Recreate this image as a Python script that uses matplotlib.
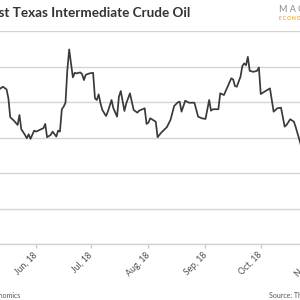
import numpy as np
import pandas as pd
import matplotlib
matplotlib.use("Agg")
import matplotlib.pyplot as plt
import matplotlib.dates as mdates

# WTI crude, daily close (USD/bbl)
dates = ["2018-05-12", "2018-05-14", "2018-05-16", "2018-05-17", "2018-05-18",
         "2018-05-20", "2018-05-22", "2018-05-23", "2018-05-24", "2018-05-26",
         "2018-05-27", "2018-05-28", "2018-05-29", "2018-05-31", "2018-06-01",
         "2018-06-03", "2018-06-05", "2018-06-06", "2018-06-07", "2018-06-09",
         "2018-06-10", "2018-06-12", "2018-06-13", "2018-06-14", "2018-06-15",
         "2018-06-16", "2018-06-17", "2018-06-18", "2018-06-19", "2018-06-20",
         "2018-06-21", "2018-06-22", "2018-06-23", "2018-06-25", "2018-06-26",
         "2018-06-27", "2018-06-28", "2018-06-30", "2018-07-02", "2018-07-03",
         "2018-07-04", "2018-07-05", "2018-07-06", "2018-07-07", "2018-07-09",
         "2018-07-10", "2018-07-12", "2018-07-13", "2018-07-15", "2018-07-16",
         "2018-07-17", "2018-07-19", "2018-07-20", "2018-07-22", "2018-07-24",
         "2018-07-26", "2018-07-27", "2018-07-30", "2018-07-31", "2018-08-01",
         "2018-08-02", "2018-08-05", "2018-08-06", "2018-08-08", "2018-08-11",
         "2018-08-13", "2018-08-15", "2018-08-17", "2018-08-18", "2018-08-19",
         "2018-08-21", "2018-08-23", "2018-08-26", "2018-08-28", "2018-08-30",
         "2018-09-01", "2018-09-03", "2018-09-04", "2018-09-05", "2018-09-08",
         "2018-09-09", "2018-09-11", "2018-09-13", "2018-09-15", "2018-09-16",
         "2018-09-17", "2018-09-18", "2018-09-20", "2018-09-21", "2018-09-22",
         "2018-09-23", "2018-09-24", "2018-09-25", "2018-09-27", "2018-09-29",
         "2018-09-30", "2018-10-01", "2018-10-03", "2018-10-06", "2018-10-08",
         "2018-10-10", "2018-10-12", "2018-10-14", "2018-10-15", "2018-10-17",
         "2018-10-19", "2018-10-20", "2018-10-22", "2018-10-23"]
prices = [71.78, 72.15, 71.78, 70.52, 67.85,
          67.37, 66.77, 68.17, 66.17, 65.37,
          64.90, 65.46, 64.81, 65.97, 65.83,
          66.07, 66.31, 66.91, 65.04, 65.37,
          65.83, 65.13, 65.97, 65.83, 68.98,
          69.34, 69.90, 74.49, 77.40, 75.43,
          73.47, 74.11, 74.03, 74.17, 73.93,
          73.09, 73.83, 74.03, 74.11, 70.52,
          70.28, 71.08, 69.82, 68.88, 68.03,
          68.64, 70.28, 69.12, 67.94, 70.74,
          71.54, 68.74, 69.82, 71.22, 68.88,
          68.50, 68.78, 69.12, 66.91, 67.09,
          67.71, 67.23, 65.04, 65.69, 66.45,
          67.47, 69.44, 69.96, 70.04, 68.64,
          70.18, 69.90, 69.90, 67.94, 67.71,
          67.61, 70.28, 68.78, 68.98, 68.98,
          71.22, 70.98, 72.15, 73.33, 73.19,
          72.25, 72.15, 73.55, 75.05, 75.43,
          75.19, 76.36, 74.39, 74.25, 74.39,
          74.87, 71.12, 71.45, 71.92, 68.64,
          69.12, 69.20, 66.53, 66.77, 67.57,
          67.23, 66.45, 64.66, 63.72]

month_ticks = ["2018-06-01", "2018-07-01", "2018-08-01", "2018-09-01",
               "2018-10-01", "2018-11-01"]

x = pd.to_datetime(dates)

fig = plt.figure(figsize=(3, 3), dpi=100)
fig.patch.set_facecolor("white")

# axes runs past the right edge, the picture is a crop of a wider chart
ax = fig.add_axes([-0.05, 56 / 300, 1.15, 213 / 300])
ax.plot(x, prices, color="#3a3a3a", lw=1.25, solid_joinstyle="round")

base = mdates.date2num(pd.Timestamp("2018-06-01"))
ax.set_xlim(base - 27.7, base + 159.6)
ax.set_ylim(50, 80)

ax.set_yticks(np.arange(50, 81, 5))
ax.yaxis.grid(True, color="#d4d4d4", lw=1.0)
ax.tick_params(axis="y", left=False, labelleft=False)
ax.set_axisbelow(True)

ax.set_xticks(pd.to_datetime(month_ticks))
ax.xaxis.set_major_formatter(mdates.DateFormatter("%b, %y"))
ax.tick_params(axis="x", direction="out", length=3, width=1,
               color="#c8c8c8", labelsize=6.2, labelcolor="#4d4d4d", pad=4)
for lab in ax.get_xticklabels():
    lab.set_rotation(45)
    lab.set_ha("right")
    lab.set_va("center")
    lab.set_rotation_mode("anchor")
    lab.set_family("Lato")

for s in ["top", "left", "right"]:
    ax.spines[s].set_visible(False)
ax.spines["bottom"].set_color("#d4d4d4")
ax.spines["bottom"].set_linewidth(1.0)

# header / footer
fig.text(190 / 300, 1 - 13 / 300, "West Texas Intermediate Crude Oil",
         ha="right", va="center", fontsize=9.7, fontweight="bold",
         color="#333333", family="Lato")
fig.text(279 / 300, 1 - 10 / 300, "M A C R O", ha="left", va="center",
         fontsize=6.5, color="#8a8a8a", family="Lato")
fig.text(279 / 300, 1 - 18 / 300, "E C O N O M I C S", ha="left", va="center",
         fontsize=3.5, color="#f0a830", family="Lato", fontweight="bold")
fig.text(20 / 300, 1 - 295 / 300, "Macro Economics", ha="right", va="center",
         fontsize=5, color="#555555", family="Lato")
fig.text(269 / 300, 1 - 295 / 300, "Source: Thomson Reuters", ha="left",
         va="center", fontsize=5, color="#555555", family="Lato")

fig.savefig("out.png", dpi=100, facecolor="white")
